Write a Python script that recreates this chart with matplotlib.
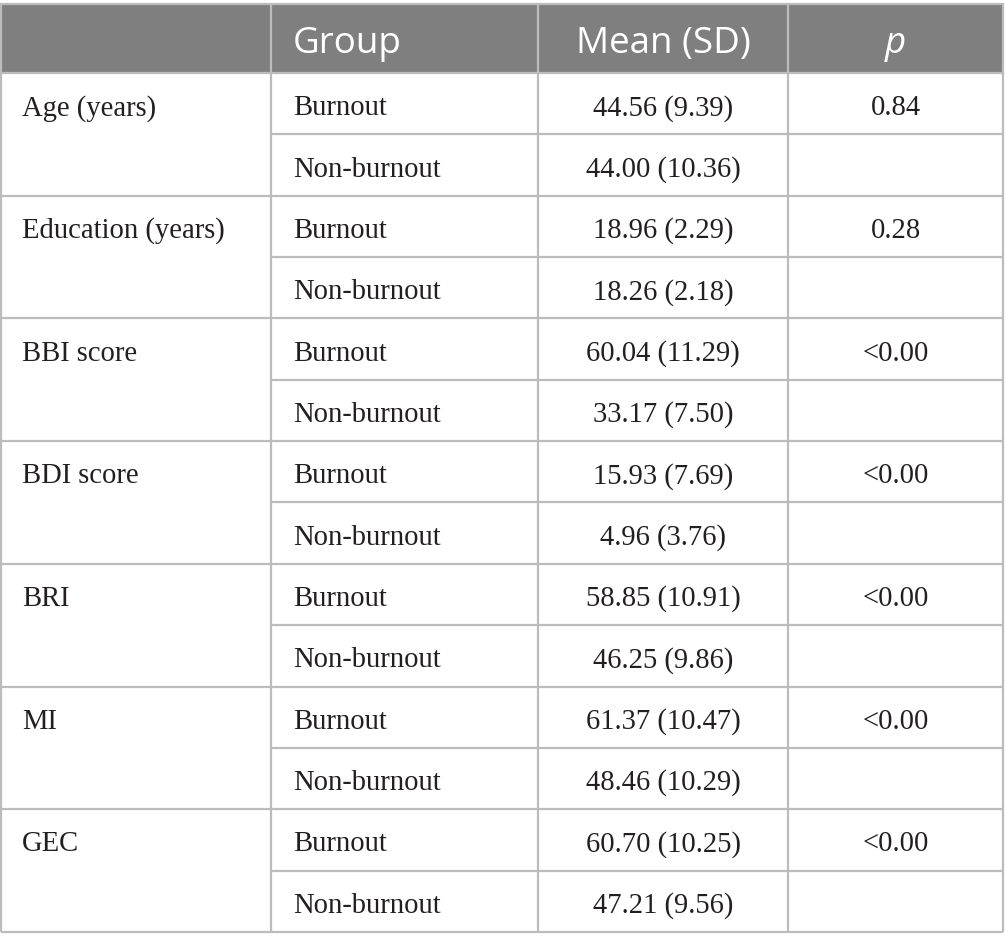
import matplotlib
matplotlib.use("Agg")
import matplotlib.pyplot as plt
from matplotlib.patches import Rectangle

headers = ["", "Group", "Mean (SD)", "p"]
variables = ["Age (years)", "Education (years)", "BBI score", "BDI score", "BRI", "MI", "GEC"]
groups = ["Burnout", "Non-burnout"]
burnout_vals = ["44.56 (9.39)", "18.96 (2.29)", "60.04 (11.29)", "15.93 (7.69)",
                "58.85 (10.91)", "61.37 (10.47)", "60.70 (10.25)"]
nonburnout_vals = ["44.00 (10.36)", "18.26 (2.18)", "33.17 (7.50)", "4.96 (3.76)",
                   "46.25 (9.86)", "48.46 (10.29)", "47.21 (9.56)"]
p_vals = ["0.84", "0.28", "<0.00", "<0.00", "<0.00", "<0.00", "<0.00"]

W, H = 1005, 947
fig = plt.figure(figsize=(W / 100, H / 100), dpi=100)
ax = fig.add_axes([0, 0, 1, 1])
ax.set_xlim(0, W)
ax.set_ylim(H, 0)
ax.axis("off")

col_x = [1, 271, 538, 788, 1003]
top, head_bot, bottom = 4, 73, 932
nrows = len(variables) * 2
row_h = (bottom - head_bot) / nrows

line_c = "#bcbcbc"
head_c = "#7f7f7f"
txt_c = "#231f20"
lw = 1.6

ax.add_patch(Rectangle((col_x[0], top), col_x[-1] - col_x[0], head_bot - top,
                       facecolor=head_c, edgecolor="none"))

serif = "Liberation Serif"
sans = "Open Sans"
bfs = 20.6
hfs = 26.5

# header text
hy = (top + head_bot) / 2 + 14.5
ax.text(293, hy, headers[1], color="white", fontsize=hfs, family=sans, ha="left", va="baseline")
ax.text((col_x[2] + col_x[3]) / 2, hy, headers[2], color="white", fontsize=hfs, family=sans,
        ha="center", va="baseline")
ax.text((col_x[3] + col_x[4]) / 2, hy, headers[3], color="white", fontsize=hfs, family=sans,
        style="italic", ha="center", va="baseline")

off = 11.5
for i, var in enumerate(variables):
    y0 = head_bot + 2 * i * row_h
    yb1 = y0 + row_h / 2 + off
    yb2 = y0 + 1.5 * row_h + off
    kw = dict(fontsize=bfs, family=serif, va="baseline", color=txt_c)
    ax.text(22, yb1, var, ha="left", **kw)
    ax.text(293, yb1, groups[0], ha="left", **kw)
    ax.text(293, yb2, groups[1], ha="left", **kw)
    xm = (col_x[2] + col_x[3]) / 2
    ax.text(xm, yb1, burnout_vals[i], ha="center", **kw)
    ax.text(xm, yb2, nonburnout_vals[i], ha="center", **kw)
    ax.text((col_x[3] + col_x[4]) / 2, yb1, p_vals[i], ha="center", **kw)
    # horizontal lines
    ax.plot([col_x[1], col_x[-1]], [y0 + row_h] * 2, color=line_c, lw=lw, solid_capstyle="butt")
    ax.plot([col_x[0], col_x[-1]], [y0 + 2 * row_h] * 2, color=line_c, lw=lw, solid_capstyle="butt")

# outer + header lines
ax.plot([col_x[0], col_x[-1]], [top, top], color=line_c, lw=lw)
ax.plot([col_x[0], col_x[-1]], [head_bot, head_bot], color=line_c, lw=lw)
for x in col_x:
    ax.plot([x, x], [top, bottom], color=line_c, lw=lw, solid_capstyle="butt")

fig.savefig("out.png", dpi=100, facecolor="white")
